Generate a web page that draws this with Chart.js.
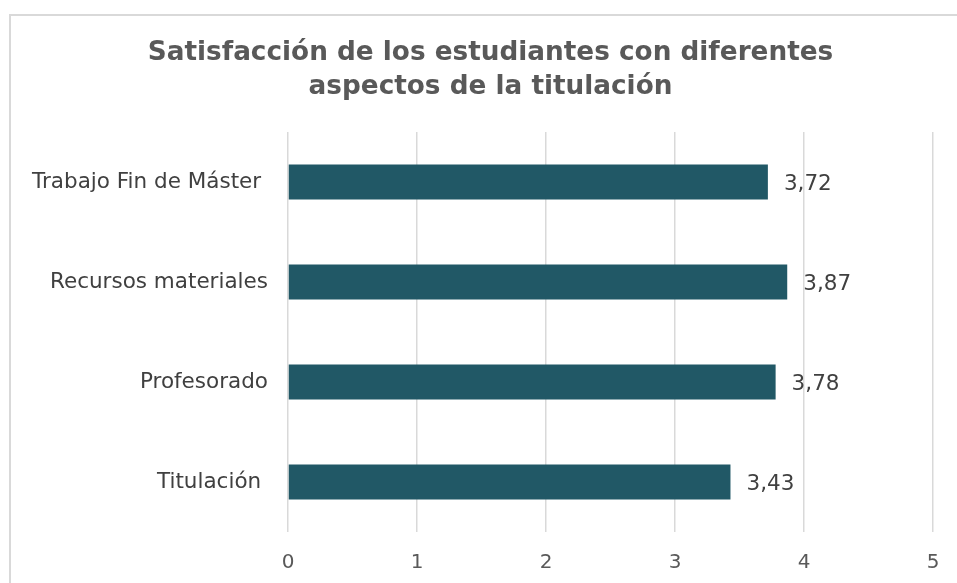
<!DOCTYPE html>
<html>
<head>
<meta charset="utf-8">
<script src="https://cdn.jsdelivr.net/npm/chart.js@4"></script>
<style>
  html, body { margin: 0; padding: 0; background: #fff; }
  #wrap { position: relative; width: 957px; height: 583px; overflow: hidden; }
  #frame { position: absolute; left: 9px; top: 14px; width: 1000px; height: 1000px; border: 2px solid #d9d9d9; box-sizing: border-box; }
  canvas { position: absolute; left: 12px; top: 0; }
</style>
</head>
<body>
<div id="wrap">
  <div id="frame"></div>
  <canvas id="chart" width="957" height="583"></canvas>
</div>
<script>
// datos del gráfico
const categories = ['Trabajo Fin de Máster ', 'Recursos materiales', 'Profesorado', 'Titulación '];
const satisfaccion = [3.72, 3.87, 3.78, 3.43];
const xTicks = [0, 1, 2, 3, 4, 5];

const FONT = "'DejaVu Sans', Verdana, sans-serif";

// etiquetas de valor al final de cada barra, con coma decimal
const valueLabels = {
  id: 'valueLabels',
  afterLayout(chart) {
    // el título va algo desplazado a la derecha, como en el original
    chart.titleBlock.left += 36;
  },
  afterDatasetsDraw(chart) {
    const ctx = chart.ctx;
    const meta = chart.getDatasetMeta(0);
    ctx.save();
    ctx.font = '21.5px ' + FONT;
    ctx.fillStyle = '#404040';
    ctx.textAlign = 'left';
    ctx.textBaseline = 'middle';
    meta.data.forEach((bar, i) => {
      const txt = satisfaccion[i].toFixed(2).replace('.', ',');
      ctx.fillText(txt, bar.x + 16, bar.y + 2);
    });
    ctx.restore();
  }
};

new Chart(document.getElementById('chart').getContext('2d'), {
  type: 'bar',
  data: {
    labels: categories,
    datasets: [{
      data: satisfaccion,
      backgroundColor: '#215866',
      categoryPercentage: 1,
      barPercentage: 0.35
    }]
  },
  options: {
    indexAxis: 'y',
    responsive: false,
    animation: false,
    layout: { padding: { left: 0, right: 36, top: 0, bottom: 0 } },
    plugins: {
      legend: { display: false },
      tooltip: { enabled: false },
      title: {
        display: true,
        text: ['Satisfacción de los estudiantes con diferentes', 'aspectos de la titulación'],
        color: '#595959',
        font: { family: FONT, size: 26.3, weight: 'bold', lineHeight: '34px' },
        padding: { top: 36, bottom: 28 }
      }
    },
    scales: {
      x: {
        min: 0,
        max: 5,
        afterBuildTicks(scale) { scale.ticks = xTicks.map(v => ({ value: v })); },
        afterFit(scale) { scale.height = 51; },
        grid: { color: '#d9d9d9', lineWidth: 1.5, drawTicks: false },
        border: { display: false },
        ticks: {
          color: '#595959',
          font: { family: FONT, size: 20 },
          padding: 19
        }
      },
      y: {
        afterFit(scale) { scale.width = 276; },
        grid: { display: false },
        border: { display: false },
        ticks: {
          color: '#404040',
          font: { family: FONT, size: 21.5 },
          padding: 12
        }
      }
    }
  },
  plugins: [valueLabels]
});
</script>
</body>
</html>
